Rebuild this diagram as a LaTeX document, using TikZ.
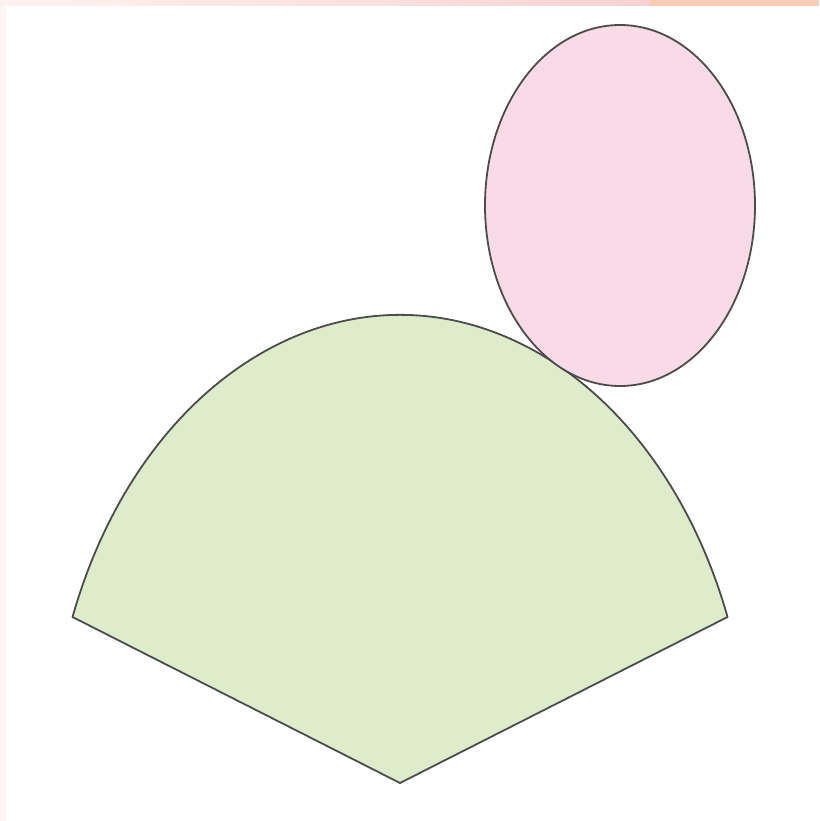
\documentclass[tikz,border=0pt]{standalone}
\begin{document}
\begin{tikzpicture}[x=1pt,y=-1pt,
  outline/.style={draw=black!70, line width=1.8pt, line join=round},
  sectorfill/.style={outline, fill=sectorgreen},
  blobfill/.style={outline, fill=blobpink}]
\definecolor{sectorgreen}{HTML}{DFECCB}
\definecolor{blobpink}{HTML}{F9DBE8}
\definecolor{barleft}{HTML}{FDF2F0}
\definecolor{barmid}{HTML}{F8D2D2}
\definecolor{barpeach}{HTML}{F9CCB5}
\definecolor{sidestrip}{HTML}{FDF5F4}
\useasboundingbox (0,0) rectangle (819,821);
\fill[white] (0,0) rectangle (819,821);
% decorative frame strips
\fill[sidestrip] (0,0) rectangle (6,821);
\shade[left color=barleft, right color=barmid] (0,0) rectangle (650,6);
\fill[barpeach] (650,0) rectangle (819,6);
% sector (elliptical fan)
\coordinate (apex) at (400,783);
\coordinate (leftend) at (72.5,617);
\draw[sectorfill] (apex) -- (leftend)
   arc[start angle=159.23, end angle=20.77, x radius=350.3pt, y radius=468pt] -- cycle;
% ellipse
\coordinate (blobc) at (620,205.5);
\draw[blobfill] (blobc) ellipse[x radius=135pt, y radius=180.5pt];
\end{tikzpicture}
\end{document}
